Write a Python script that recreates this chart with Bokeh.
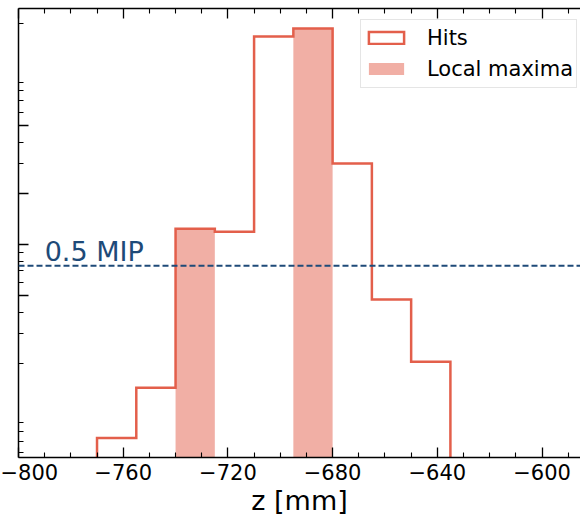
from bokeh.plotting import figure
from bokeh.models import (Range1d, FixedTicker, LinearAxis, Span, Title, Legend,
                          LegendItem, ColumnDataSource)
from bokeh.embed import file_html
from bokeh.resources import INLINE
from bokeh.core.properties import value

# ---- data ----
bin_edges = [-770, -755, -740, -725, -710, -695, -680, -665, -650, -635]
hits = [0.073, 0.144, 1.24, 1.19, 16.7, 18.6, 3.0, 0.475, 0.205]
local_max_bins = [2, 5]          # indices of bins flagged as local maxima
mip_half = 0.75                  # 0.5 MIP threshold
x_major = [-800, -760, -720, -680, -640, -600]
x_minor = [-790, -780, -770, -750, -740, -730, -710, -700, -690, -670, -660,
           -650, -630, -620, -610, -590]
y_major = [0.5, 1, 2, 5]
y_minor = [0.06, 0.07, 0.08, 0.09, 0.2, 0.3, 0.4, 0.6, 0.7, 0.8, 0.9,
           3, 4, 6, 7, 8, 9, 20]

RED = "#e35f4b"
BLUE = "#1e4a78"
FONT = "DejaVu Sans"
BASE = 1e-3

p = figure(width=580, height=515, output_backend="svg", toolbar_location=None,
           x_range=Range1d(-800, -585.3), y_range=Range1d(0.0561, 24.4),
           y_axis_type="log", min_border_left=18, min_border_right=0,
           min_border_top=8, min_border_bottom=58)
p.grid.visible = False
p.outline_line_color = None
p.background_fill_color = "white"
p.border_fill_color = "white"

# ---- axes ----
xt = FixedTicker(ticks=x_major, minor_ticks=x_minor)
yt = FixedTicker(ticks=y_major, minor_ticks=y_minor)

xa = p.xaxis[0]
xa.ticker = xt
xa.major_label_overrides = {float(v): ("\u2212%d" % abs(v) if v < 0 else "%d" % v) for v in x_major}
xa.major_label_text_font = FONT
xa.major_label_text_font_size = "21px"
xa.major_label_text_color = "black"
xa.major_label_standoff = 6

ya = p.yaxis[0]
ya.ticker = yt
ya.major_label_text_font_size = "0px"
ya.major_label_text_color = None
ya.major_label_standoff = 0

top = LinearAxis(ticker=xt, major_label_text_font_size="0px",
                 major_label_text_color=None, major_label_standoff=0)
p.add_layout(top, "above")

for ax in (xa, ya, top):
    ax.axis_line_color = "black"
    ax.axis_line_width = 1.5
    ax.major_tick_line_color = "black"
    ax.minor_tick_line_color = "black"
    ax.major_tick_line_width = 1.3
    ax.minor_tick_line_width = 1.1
    ax.major_tick_in = 10
    ax.major_tick_out = 0
    ax.minor_tick_in = 5
    ax.minor_tick_out = 0

# ---- x axis title (panel below the axis) ----
p.add_layout(Title(text="z [mm]", align="center", offset=6, standoff=0,
                   text_font=FONT, text_font_size="27px", text_line_height=0.85,
                   text_font_style="normal", text_color="black"), "below")

# ---- local maxima (shaded bins) ----
lm_src = ColumnDataSource(dict(
    left=[bin_edges[i] for i in local_max_bins],
    right=[bin_edges[i + 1] for i in local_max_bins],
    top=[hits[i] for i in local_max_bins],
    bottom=[BASE for _ in local_max_bins]))
lm = p.quad(left="left", right="right", top="top", bottom="bottom", source=lm_src,
            fill_color=RED, fill_alpha=0.5, line_color=None)

# ---- hits step outline ----
xs = [bin_edges[0]]
ys = [BASE]
for i, h in enumerate(hits):
    xs += [bin_edges[i], bin_edges[i + 1]]
    ys += [h, h]
xs.append(bin_edges[-1])
ys.append(BASE)
hr = p.patch(xs, ys, fill_color=None, line_color=RED, line_width=2.5,
             line_join="miter")

# ---- 0.5 MIP line ----
p.add_layout(Span(location=mip_half, dimension="width", line_color=BLUE,
                  line_width=2, line_dash="6 3"))
p.text(x=[-790], y=[mip_half], text=["0.5 MIP"], text_font=value(FONT),
       text_font_size="27px", text_color=BLUE, text_baseline="alphabetic",
       text_align="left", y_offset=-14)

# ---- legend ----
leg = Legend(items=[LegendItem(label="Hits", renderers=[hr]),
                    LegendItem(label="Local maxima", renderers=[lm])],
             location=(342, 369.4), orientation="vertical",
             label_text_font=FONT, label_text_font_size="21px",
             label_text_color="black", glyph_width=44, glyph_height=15,
             label_height=30, label_standoff=19, spacing=1, padding=3,
             margin=0, border_line_color="#cccccc", border_line_width=1,
             background_fill_color="white", background_fill_alpha=0.8)
p.add_layout(leg, "center")

open("out.html", "w").write(file_html(p, INLINE))
